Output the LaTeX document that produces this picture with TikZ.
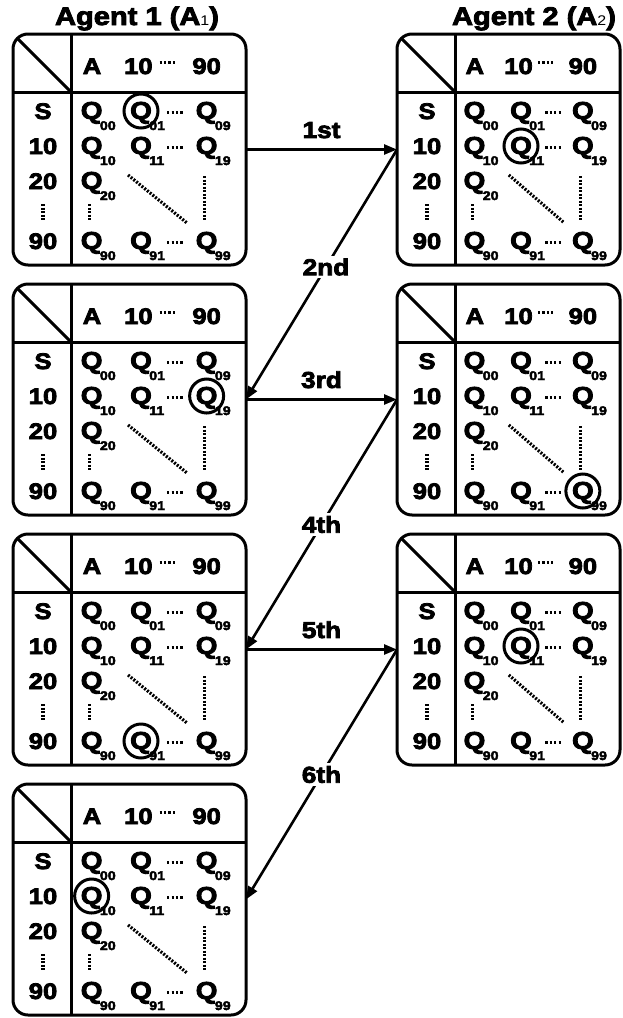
\documentclass[tikz,border=0pt]{standalone}
\usepackage{fontspec}
\setmainfont{Liberation Sans}[FakeStretch=1.14, BoldFeatures={FakeBold=3.5}]
\usetikzlibrary{arrows.meta}
\tikzset{
  tbox/.style={draw, line width=3pt, rounded corners=15pt, inner sep=0pt, outer sep=0pt},
  gridline/.style={line width=3pt},
  txt/.style={inner sep=0pt, font=\fontsize{22.5}{22.5}\selectfont\bfseries, anchor=base},
  qtxt/.style={inner sep=0pt, font=\fontsize{24.5}{24.5}\selectfont\bfseries, anchor=base},
  subtxt/.style={inner sep=0pt, font=\fontsize{12.5}{12.5}\selectfont\bfseries, anchor=base west},
  vdotline/.style={line width=3.2pt, dash pattern=on 2pt off 1.5pt},
  hdotline/.style={line width=3pt, dash pattern=on 2.2pt off 2.2pt},
  selcirc/.style={draw, circle, line width=3pt, minimum size=34pt, inner sep=0pt},
  conn/.style={line width=2.6pt, -{Triangle[length=13pt,width=10pt]}},
  lbl/.style={font=\fontsize{23}{23}\selectfont\bfseries, inner sep=3pt},
  ttl/.style={font=\fontsize{25.5}{25.5}\selectfont\bfseries, inner sep=0pt, anchor=base}
}
\newcommand\qq[4]{%
  \node[qtxt] (#1) at (#2,#3) {Q};
  \node[subtxt] (#1-s) at ([xshift=-3pt,yshift=-11pt]#1.base east) {#4};}
\newcommand\qtab[6]{%
\begin{scope}[shift={(#2,#3)}]
  \pgfmathsetmacro\iw{#4-58}
  \pgfmathsetmacro\ca{58+0.118*\iw}
  \pgfmathsetmacro\cb{58+0.40*\iw}
  \pgfmathsetmacro\cc{58+0.775*\iw}
  \pgfmathsetmacro\ha{58+0.12*\iw}
  \pgfmathsetmacro\hb{58+0.385*\iw}
  \pgfmathsetmacro\hd{58+0.55*\iw}
  \pgfmathsetmacro\rd{58+0.594*\iw}
  \pgfmathsetmacro\da{58+0.326*\iw}
  \pgfmathsetmacro\db{58+0.663*\iw}
  \node[tbox, minimum width=#4pt, minimum height=231pt, anchor=north west] (#1) at (0,0) {};
  \draw[gridline] (0,58) -- (#4,58);
  \draw[gridline] (58,0) -- (58,231);
  \draw[gridline] (4.4,4.4) -- (58,58);
  % header
  \node[txt] (#1-ha) at (\ha,40) {A};
  \node[txt] (#1-hb) at (\hb,40) {10};
  \node[txt] (#1-hc) at (\cc,40) {90};
  \draw[hdotline] (\hd-7.7,28) -- (\hd+7.7,28);
  % row labels
  \node[txt] (#1-rs) at (30,85) {S};
  \node[txt] (#1-r1) at (30,120) {10};
  \node[txt] (#1-r2) at (30,155) {20};
  \draw[vdotline] (30,170) -- (30,187);
  \node[txt] (#1-r9) at (30,215) {90};
  % Q values
  \qq{#1-q00}{\ca}{85}{00}
  \qq{#1-q01}{\cb}{85}{01}
  \qq{#1-q09}{\cc}{85}{09}
  \draw[hdotline] (\rd-7.7,78) -- (\rd+7.7,78);
  \qq{#1-q10}{\ca}{120}{10}
  \qq{#1-q11}{\cb}{120}{11}
  \qq{#1-q19}{\cc}{120}{19}
  \draw[hdotline] (\rd-7.7,113) -- (\rd+7.7,113);
  \qq{#1-q20}{\ca}{155}{20}
  \draw[vdotline] (\ca-2,170) -- (\ca-2,187);
  \draw[vdotline] (\da,141) -- (\db,189);
  \draw[vdotline] (\cc-2,142) -- (\cc-2,187);
  \qq{#1-q90}{\ca}{215}{90}
  \qq{#1-q91}{\cb}{215}{91}
  \qq{#1-q99}{\cc}{215}{99}
  \draw[hdotline] (\rd-7.7,208) -- (\rd+7.7,208);
  \node[selcirc] (#1-sel) at (#5,#6-8) {};
\end{scope}}
\begin{document}
\begin{tikzpicture}[x=1pt,y=-1pt]
\useasboundingbox (0,0) rectangle (622,1018);
\node[ttl] (title1) at (137,25) {Agent 1 (A{\fontsize{14}{14}\selectfont\mdseries 1})};
\node[ttl] (title2) at (534,25) {Agent 2 (A{\fontsize{14}{14}\selectfont\mdseries 2})};
\qtab{L1}{13}{34}{233}{\cb}{85}
\qtab{R1}{397}{34}{223}{\cb}{120}
\qtab{L2}{13}{284}{233}{\cc}{120}
\qtab{R2}{397}{284}{223}{\cc}{215}
\qtab{L3}{13}{534}{233}{\cb}{215}
\qtab{R3}{397}{534}{223}{\cb}{120}
\qtab{L4}{13}{784}{233}{\ca}{120}
\draw[conn] (L1.east) -- (R1.west) node[lbl, midway, above=7pt] (a1) {1st};
\draw[conn] (R1.west) -- (L2.east) node[lbl, fill=white, pos=0.47] (a2) {2nd};
\draw[conn] (L2.east) -- (R2.west) node[lbl, midway, above=7pt] (a3) {3rd};
\draw[conn] (R2.west) -- (L3.east) node[lbl, fill=white, pos=0.5] (a4) {4th};
\draw[conn] (L3.east) -- (R3.west) node[lbl, midway, above=7pt] (a5) {5th};
\draw[conn] (R3.west) -- (L4.east) node[lbl, fill=white, pos=0.5] (a6) {6th};
\end{tikzpicture}
\end{document}
